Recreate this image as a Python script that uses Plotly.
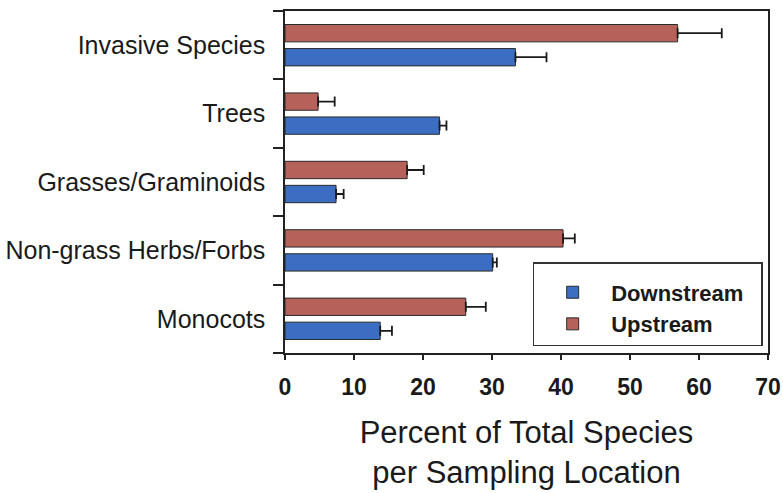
import plotly.graph_objects as go

categories = ["Monocots", "Non-grass Herbs/Forbs", "Grasses/Graminoids", "Trees", "Invasive Species"]
downstream = [13.8, 30.1, 7.4, 22.4, 33.4]
downstream_err = [1.7, 0.6, 1.1, 1.0, 4.5]
upstream = [26.2, 40.3, 17.7, 4.8, 56.9]
upstream_err = [2.9, 1.7, 2.4, 2.4, 6.4]
x_ticks = [0, 10, 20, 30, 40, 50, 60, 70]

FONT = "Liberation Sans, Arial, sans-serif"
BLUE = "#3B6EC3"
RED = "#B6625A"
EDGE = "#2b2b2b"
PAD = "\u00a0\u00a0"

fig = go.Figure()
fig.add_trace(go.Bar(
    y=categories, x=downstream, orientation="h", name="Downstream" + PAD,
    marker=dict(color=BLUE, line=dict(color=EDGE, width=1)),
    error_x=dict(type="data", symmetric=False, array=downstream_err,
                 arrayminus=[0] * len(downstream_err), color="#1a1a1a",
                 thickness=1.8, width=5),
))
fig.add_trace(go.Bar(
    y=categories, x=upstream, orientation="h", name="Upstream" + PAD,
    marker=dict(color=RED, line=dict(color=EDGE, width=1)),
    error_x=dict(type="data", symmetric=False, array=upstream_err,
                 arrayminus=[0] * len(upstream_err), color="#1a1a1a",
                 thickness=1.8, width=5),
))

fig.update_layout(
    width=783, height=493,
    margin=dict(l=285, r=15, t=11, b=140, autoexpand=False),
    paper_bgcolor="white", plot_bgcolor="white",
    barmode="group", bargap=0.297, bargroupgap=0.279,
    font=dict(family=FONT, color="#1a1a1a"),
    showlegend=True,
    legend=dict(
        x=0.989, y=0.02, xanchor="right", yanchor="bottom",
        bordercolor="#333", borderwidth=1.5, bgcolor="white",
        font=dict(family=FONT, size=22, color="#1a1a1a", weight="bold"),
        itemwidth=67,
        title=dict(text=" ", font=dict(size=6)),
    ),
    xaxis=dict(
        range=[0, 70], tickvals=x_ticks, ticktext=[str(v) for v in x_ticks],
        showgrid=False, zeroline=False, automargin=False,
        showline=True, linecolor="#222", linewidth=1.5, mirror=True,
        ticks="outside", ticklen=5, tickwidth=1.5, tickcolor="#222",
        tickfont=dict(family=FONT, size=23, color="#1a1a1a", weight="bold"),
        ticklabelstandoff=8,
        title=dict(text="Percent of Total Species<br>per Sampling Location",
                   font=dict(family=FONT, size=31, color="#1a1a1a"), standoff=22),
    ),
    yaxis=dict(
        type="category", categoryorder="array", categoryarray=categories,
        showgrid=False, zeroline=False, automargin=False,
        showline=True, linecolor="#222", linewidth=1.5, mirror=True,
        ticks="outside", tickson="boundaries", ticklen=10, tickwidth=1.5, tickcolor="#222",
        tickfont=dict(family=FONT, size=25, color="#1a1a1a"),
        ticklabelstandoff=13,
    ),
)

fig.write_html(
    "out.html",
    config={"displayModeBar": False},
    post_script="document.body.style.margin='0';document.body.style.overflow='hidden';",
)
